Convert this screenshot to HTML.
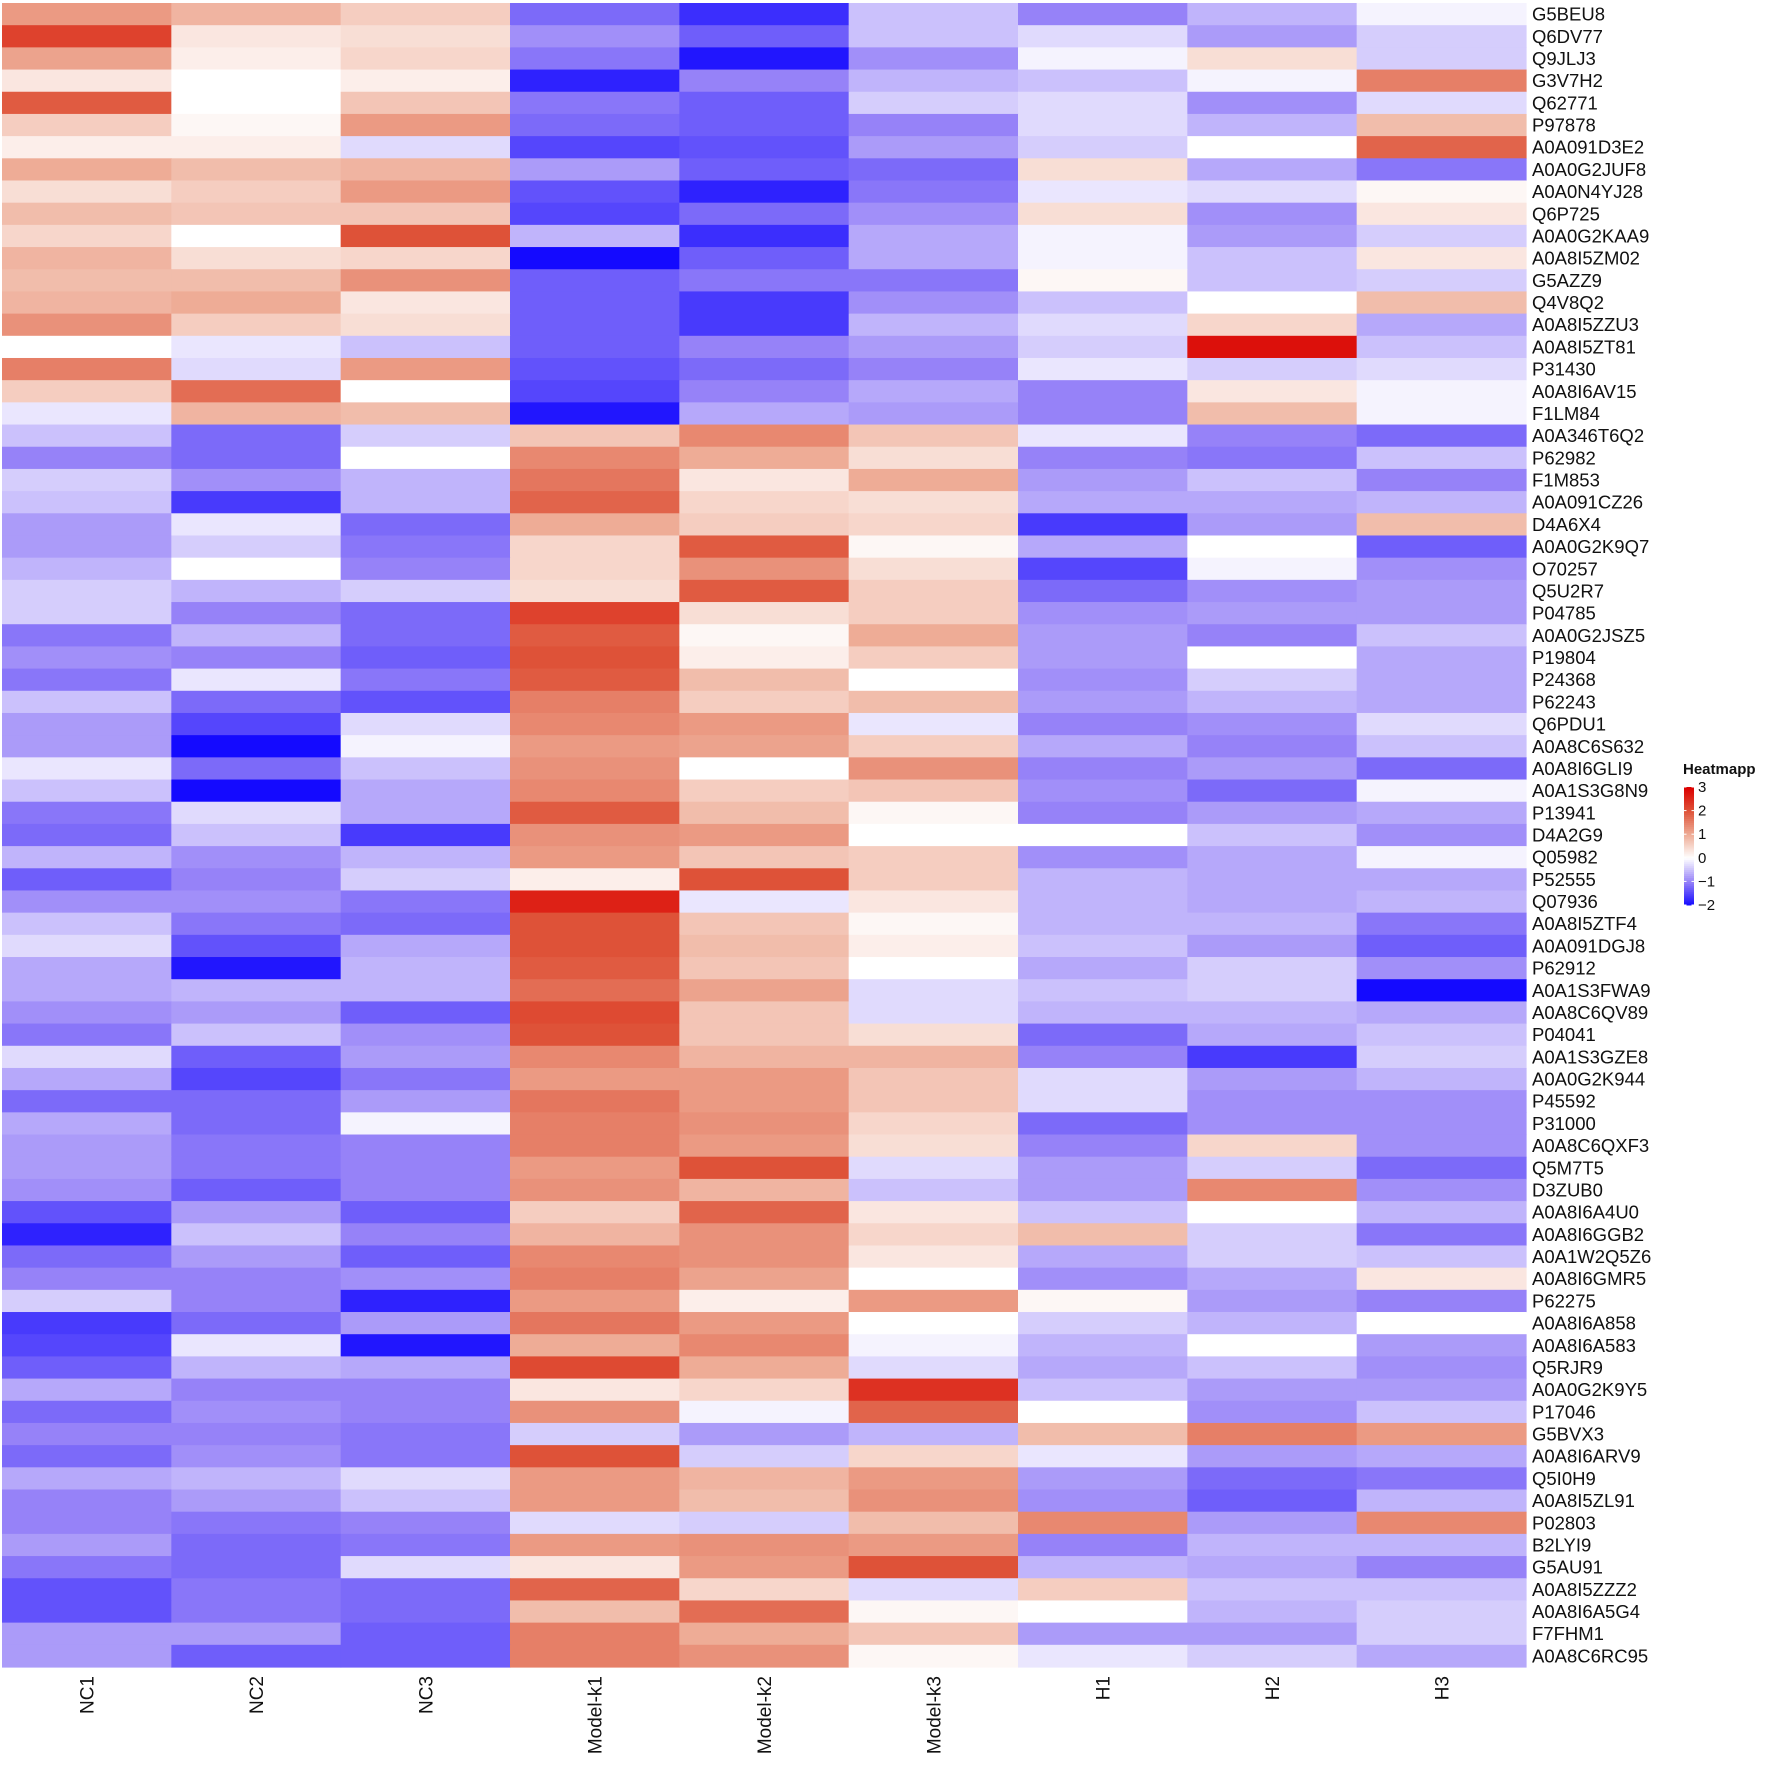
<!DOCTYPE html>
<html><head><meta charset="utf-8"><style>
html,body{margin:0;padding:0;background:#fff;}
svg{display:block;font-family:"Liberation Sans",Arial,sans-serif;}
</style></head><body>
<svg id="chart" width="1772" height="1767" viewBox="0 0 1772 1767" xmlns="http://www.w3.org/2000/svg">
<g id="cells"></g>
<g id="rowlabels"></g>
<g id="collabels"></g>
<g id="legend"></g>
</svg>
<script>
const columns = ["NC1","NC2","NC3","Model-k1","Model-k2","Model-k3","H1","H2","H3"];
const rows = ["G5BEU8","Q6DV77","Q9JLJ3","G3V7H2","Q62771","P97878","A0A091D3E2","A0A0G2JUF8","A0A0N4YJ28","Q6P725","A0A0G2KAA9","A0A8I5ZM02","G5AZZ9","Q4V8Q2","A0A8I5ZZU3","A0A8I5ZT81","P31430","A0A8I6AV15","F1LM84","A0A346T6Q2","P62982","F1M853","A0A091CZ26","D4A6X4","A0A0G2K9Q7","O70257","Q5U2R7","P04785","A0A0G2JSZ5","P19804","P24368","P62243","Q6PDU1","A0A8C6S632","A0A8I6GLI9","A0A1S3G8N9","P13941","D4A2G9","Q05982","P52555","Q07936","A0A8I5ZTF4","A0A091DGJ8","P62912","A0A1S3FWA9","A0A8C6QV89","P04041","A0A1S3GZE8","A0A0G2K944","P45592","P31000","A0A8C6QXF3","Q5M7T5","D3ZUB0","A0A8I6A4U0","A0A8I6GGB2","A0A1W2Q5Z6","A0A8I6GMR5","P62275","A0A8I6A858","A0A8I6A583","Q5RJR9","A0A0G2K9Y5","P17046","G5BVX3","A0A8I6ARV9","Q5I0H9","A0A8I5ZL91","P02803","B2LYI9","G5AU91","A0A8I5ZZZ2","A0A8I6A5G4","F7FHM1","A0A8C6RC95"];
const values = [
[1.2,0.9,0.6,-1.2,-1.7,-0.5,-1.0,-0.6,-0.1],
[2.2,0.3,0.4,-0.9,-1.3,-0.5,-0.3,-0.8,-0.4],
[1.1,0.2,0.5,-1.1,-1.9,-0.9,-0.1,0.4,-0.4],
[0.3,0.0,0.2,-1.8,-1.0,-0.6,-0.5,-0.1,1.5],
[1.9,0.0,0.7,-1.1,-1.3,-0.4,-0.3,-0.9,-0.3],
[0.6,0.1,1.2,-1.2,-1.3,-1.0,-0.3,-0.6,0.8],
[0.2,0.2,-0.3,-1.5,-1.4,-0.8,-0.4,0.0,1.8],
[1.0,0.8,0.9,-0.8,-1.3,-1.2,0.4,-0.7,-1.1],
[0.4,0.6,1.2,-1.4,-1.8,-1.1,-0.2,-0.3,0.1],
[0.8,0.7,0.7,-1.5,-1.2,-0.9,0.4,-0.9,0.3],
[0.5,0.0,2.0,-0.6,-1.7,-0.7,-0.1,-0.8,-0.4],
[0.9,0.4,0.5,-2.0,-1.3,-0.7,-0.1,-0.5,0.3],
[0.8,0.8,1.3,-1.3,-1.1,-1.1,0.1,-0.5,-0.4],
[0.9,1.0,0.3,-1.3,-1.6,-0.9,-0.5,0.0,0.8],
[1.3,0.6,0.4,-1.3,-1.6,-0.6,-0.3,0.5,-0.7],
[0.0,-0.2,-0.5,-1.3,-1.0,-0.8,-0.4,2.8,-0.5],
[1.5,-0.3,1.2,-1.4,-1.2,-1.0,-0.2,-0.4,-0.3],
[0.6,1.7,0.0,-1.5,-1.0,-0.7,-1.0,0.3,-0.1],
[-0.2,0.9,0.8,-1.9,-0.7,-0.8,-1.0,0.8,-0.1],
[-0.5,-1.2,-0.4,0.7,1.4,0.7,-0.2,-1.0,-1.2],
[-1.0,-1.2,0.0,1.4,1.0,0.4,-1.0,-1.1,-0.5],
[-0.4,-0.9,-0.6,1.6,0.3,1.0,-0.8,-0.5,-1.0],
[-0.5,-1.6,-0.6,1.8,0.5,0.4,-0.7,-0.7,-0.6],
[-0.8,-0.2,-1.2,1.0,0.6,0.5,-1.6,-0.8,0.8],
[-0.8,-0.4,-1.1,0.5,1.9,0.1,-0.7,0.0,-1.3],
[-0.6,0.0,-1.0,0.5,1.3,0.4,-1.5,-0.1,-0.9],
[-0.4,-0.6,-0.4,0.4,1.9,0.6,-1.2,-0.9,-0.8],
[-0.4,-1.0,-1.2,2.2,0.4,0.6,-0.9,-0.8,-0.8],
[-1.1,-0.6,-1.2,1.9,0.1,1.0,-0.8,-1.0,-0.5],
[-0.9,-1.0,-1.3,2.0,0.2,0.6,-0.8,0.0,-0.7],
[-1.1,-0.2,-1.1,1.9,0.8,0.0,-0.9,-0.4,-0.7],
[-0.5,-1.2,-1.4,1.5,0.6,0.8,-0.8,-0.6,-0.7],
[-0.8,-1.5,-0.3,1.4,1.2,-0.2,-1.0,-0.9,-0.3],
[-0.8,-2.0,-0.1,1.2,1.1,0.6,-0.7,-1.0,-0.5],
[-0.2,-1.2,-0.5,1.3,0.0,1.3,-1.0,-0.8,-1.2],
[-0.5,-2.0,-0.7,1.4,0.6,0.7,-0.9,-1.2,-0.1],
[-1.1,-0.3,-0.7,1.9,0.8,0.1,-1.0,-0.8,-0.7],
[-1.2,-0.5,-1.6,1.3,1.2,0.0,0.0,-0.5,-0.9],
[-0.6,-0.9,-0.6,1.2,0.7,0.6,-0.9,-0.7,-0.1],
[-1.3,-1.0,-0.4,0.2,2.0,0.6,-0.6,-0.7,-0.7],
[-0.9,-0.9,-1.1,2.6,-0.2,0.3,-0.6,-0.7,-0.6],
[-0.5,-1.1,-1.2,2.0,0.7,0.1,-0.6,-0.6,-1.1],
[-0.3,-1.4,-0.7,2.0,0.8,0.2,-0.5,-0.8,-1.3],
[-0.7,-1.9,-0.6,1.9,0.7,0.0,-0.7,-0.4,-0.9],
[-0.7,-0.6,-0.6,1.7,1.1,-0.3,-0.5,-0.4,-2.0],
[-0.9,-0.8,-1.3,2.1,0.7,-0.3,-0.6,-0.6,-0.7],
[-1.1,-0.5,-0.9,2.0,0.7,0.4,-1.2,-0.7,-0.5],
[-0.3,-1.3,-0.8,1.4,0.9,0.9,-1.0,-1.6,-0.4],
[-0.7,-1.5,-1.1,1.2,1.2,0.7,-0.3,-0.8,-0.6],
[-1.2,-1.2,-0.8,1.6,1.2,0.7,-0.3,-0.9,-0.9],
[-0.7,-1.2,-0.1,1.5,1.3,0.5,-1.2,-0.9,-0.9],
[-0.8,-1.1,-1.0,1.5,1.2,0.4,-1.0,0.5,-0.9],
[-0.8,-1.1,-1.0,1.2,2.0,-0.3,-0.8,-0.4,-1.2],
[-0.9,-1.3,-1.0,1.3,0.9,-0.5,-0.8,1.4,-0.9],
[-1.4,-0.8,-1.3,0.6,1.8,0.3,-0.5,0.0,-0.6],
[-1.8,-0.5,-1.0,0.9,1.3,0.5,0.8,-0.4,-1.1],
[-1.2,-0.8,-1.3,1.4,1.3,0.3,-0.7,-0.4,-0.5],
[-1.0,-1.0,-0.9,1.5,1.1,0.0,-0.9,-0.7,0.3],
[-0.4,-1.0,-1.8,1.2,0.2,1.2,0.1,-0.8,-1.0],
[-1.6,-1.2,-0.8,1.6,1.2,0.0,-0.4,-0.6,0.0],
[-1.5,-0.2,-1.9,1.0,1.4,-0.1,-0.6,0.0,-0.8],
[-1.3,-0.6,-0.7,2.1,1.0,-0.3,-0.7,-0.5,-0.9],
[-0.7,-1.0,-1.0,0.3,0.5,2.4,-0.5,-0.8,-0.8],
[-1.2,-0.9,-1.0,1.3,-0.1,1.8,0.0,-0.9,-0.5],
[-1.0,-1.0,-1.1,-0.4,-0.8,-0.6,0.8,1.5,1.2],
[-1.2,-0.9,-1.1,2.0,-0.4,0.5,-0.2,-0.8,-0.7],
[-0.7,-0.6,-0.3,1.2,0.9,1.2,-0.8,-1.2,-1.1],
[-1.0,-0.8,-0.5,1.2,0.8,1.3,-0.9,-1.3,-0.6],
[-1.0,-1.1,-1.0,-0.3,-0.4,0.8,1.4,-0.8,1.4],
[-0.8,-1.2,-1.1,1.2,1.3,1.2,-1.0,-0.6,-0.6],
[-1.1,-1.2,-0.3,0.3,1.2,2.0,-0.6,-0.7,-1.0],
[-1.4,-1.1,-1.2,1.8,0.5,-0.3,0.6,-0.5,-0.5],
[-1.4,-1.1,-1.2,0.8,1.7,0.1,0.0,-0.6,-0.4],
[-0.8,-0.8,-1.3,1.5,1.0,0.7,-0.8,-0.8,-0.4],
[-0.8,-1.3,-1.3,1.5,1.3,0.1,-0.2,-0.4,-0.7]
];
const legendTicks = [3,2,1,0,-1,-2];

const NS = "http://www.w3.org/2000/svg";
const X0 = 2, X1 = 1526, Y0 = 3, Y1 = 1667;
const cw = (X1 - X0) / columns.length, rh = (Y1 - Y0) / rows.length;
const stops = [[-2,[20,10,255]],[-1,[150,130,248]],[0,[255,255,255]],[1,[238,172,150]],[2,[222,82,56]],[3,[220,0,0]]];
function color(v){
  if (v <= stops[0][0]) v = stops[0][0];
  if (v >= stops[stops.length-1][0]) v = stops[stops.length-1][0];
  for (let i=0;i<stops.length-1;i++){
    const a=stops[i], b=stops[i+1];
    if (v>=a[0] && v<=b[0]){
      const t=(v-a[0])/(b[0]-a[0]);
      const c=a[1].map((x,k)=>Math.round(x+(b[1][k]-x)*t));
      return "rgb("+c.join(",")+")";
    }
  }
  return "#fff";
}
function xPos(j){ return X0 + j*cw; }
function yPos(i){ return Y0 + i*rh; }
function mk(tag, attrs){ const e=document.createElementNS(NS,tag); for (const k in attrs) e.setAttribute(k, attrs[k]); return e; }

const cells = document.getElementById("cells");
values.forEach((row,i)=>{
  row.forEach((v,j)=>{
    const r = mk("rect",{x:xPos(j),y:yPos(i),width:cw+0.6,height:rh+0.6,fill:color(v)});
    
    
    cells.appendChild(r);
  });
});
const rl = document.getElementById("rowlabels");
rows.forEach((name,i)=>{
  const t = mk("text",{x:1532,y:yPos(i)+rh/2+6.5,"font-size":"18.5",fill:"#111"});
  t.textContent = name;
  
  
  rl.appendChild(t);
});
const cl = document.getElementById("collabels");
columns.forEach((name,j)=>{
  const cx = xPos(j)+cw/2;
  const t = mk("text",{x:0,y:0,"font-size":"19","text-anchor":"end",fill:"#111",transform:"translate("+(cx+7)+",1676) rotate(-90)"});
  t.textContent = name;
  
  
  cl.appendChild(t);
});
// legend
const lg = document.getElementById("legend");
const LT = 787, LB = 905, LX = 1684, LW = 10;
function ly(v){ return LB - (v - (-2)) * (LB - LT) / 5; }
const title = mk("text",{x:1683,y:774,"font-size":"15","font-weight":"bold",fill:"#111"});
title.textContent = "Heatmapp";


lg.appendChild(title);
for (let k=0;k<60;k++){
  const v0 = -2 + k*5/60, v1 = v0 + 5/60;
  const r = mk("rect",{x:LX,y:ly(v1),width:LW,height:(ly(v0)-ly(v1))+0.5,fill:color((v0+v1)/2)});
  
  
  lg.appendChild(r);
}
legendTicks.forEach(v=>{
  const l1 = mk("line",{x1:LX,x2:LX+2.5,y1:ly(v),y2:ly(v),stroke:"#fff","stroke-width":"1"});
  
  
  lg.appendChild(l1);
  const l2 = mk("line",{x1:LX+LW-2.5,x2:LX+LW,y1:ly(v),y2:ly(v),stroke:"#fff","stroke-width":"1"});
  
  
  lg.appendChild(l2);
  const t = mk("text",{x:LX+LW+4,y:ly(v)+5,"font-size":"15",fill:"#111"});
  t.textContent = v < 0 ? "\u2212" + Math.abs(v) : String(v);
  
  
  lg.appendChild(t);
});
</script>
</body></html>
